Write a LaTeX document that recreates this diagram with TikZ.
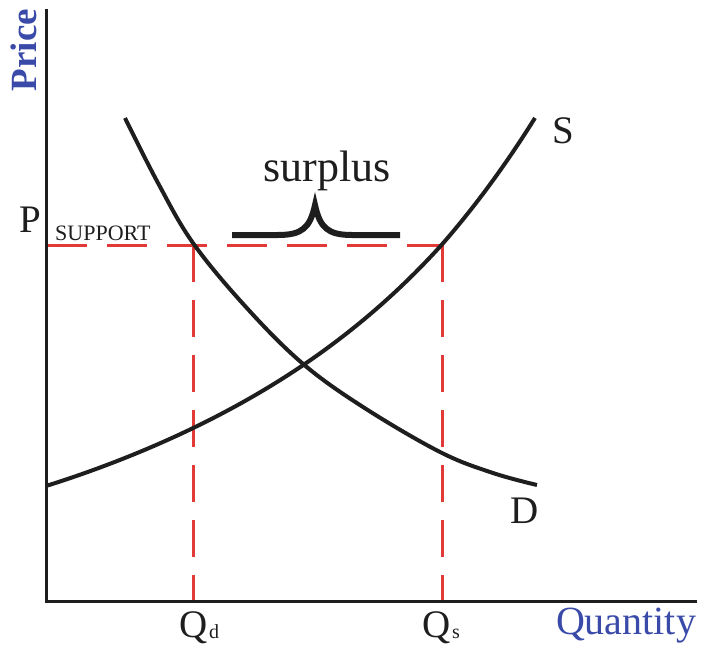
\documentclass[tikz,border=0pt]{standalone}
\usepackage{fontspec}
\setmainfont{Liberation Serif}
\definecolor{axisblue}{HTML}{3A4AA8}
\definecolor{dashred}{HTML}{E23A36}
\definecolor{curveblack}{HTML}{1E1E1E}
\begin{document}
\begin{tikzpicture}[x=1pt,y=-1pt,
  axis/.style={line width=3pt,curveblack},
  curve/.style={line width=4pt,curveblack},
  hguide/.style={line width=3pt,dashred,dash pattern=on 40pt off 20pt},
  vguide/.style={line width=3pt,dashred,dash pattern=on 37pt off 18pt},
  bluelabel/.style={text=axisblue,inner sep=0pt},
  blacklabel/.style={text=curveblack,inner sep=0pt}]
\useasboundingbox (0,0) rectangle (703,652);
\coordinate (origin) at (46,601);
\coordinate (ytop) at (46,9);
\coordinate (xend) at (697,601);
\coordinate (pl) at (47,245);
\coordinate (pd) at (193,245);
\coordinate (ps) at (442,245);
\coordinate (qd) at (193,601);
\coordinate (qs) at (442,601);
% dashed guides
\draw[hguide] (pl) -- (ps);
\draw[vguide] (pd) -- (qd);
\draw[vguide] (ps) -- (qs);
% axes
\draw[axis] (ytop) -- (origin) -- (xend);
% demand
\draw[curve] plot[smooth,tension=0.6] coordinates {(125,118) (158,183) (193,243) (245,306) (302,363) (363,407) (440,452) (493,473) (537,485)};
% supply
\draw[curve] plot[domain=46:535,samples=60,smooth] (\x,{601-38.6-76.4*exp(0.0036*(\x-46))-5*sin((\x-46)/396*180)*(\x<442)});
% brace
\draw[line width=6pt,curveblack] (232,235) -- (278,235) .. controls (302,235) and (310,228) .. (315,205) .. controls (320,228) and (328,235) .. (352,235) -- (400,235);
% labels
\node[bluelabel,rotate=90,font=\fontsize{37}{37}\selectfont\bfseries] (price) at (24,50) {Price};
\node[bluelabel,font=\fontsize{40}{40}\selectfont] (qty) at (626,626) {Quantity};
\node[blacklabel,font=\fontsize{44}{44}\selectfont] (surplus) at (327,171) {surplus};
\node[blacklabel,font=\fontsize{39}{39}\selectfont] (slab) at (563,131) {S};
\node[blacklabel,font=\fontsize{39}{39}\selectfont] (dlab) at (525,511) {D};
\node[blacklabel,font=\fontsize{39}{39}\selectfont] (plab) at (30,220) {P};
\node[blacklabel,font=\fontsize{22}{22}\selectfont,anchor=south west] (sup) at (55,241) {SUPPORT};
\node[blacklabel,font=\fontsize{39}{39}\selectfont] (qdlab) at (194,628) {Q};
\node[blacklabel,font=\fontsize{20}{20}\selectfont,anchor=south west] (qdsub) at (209,639) {d};
\node[blacklabel,font=\fontsize{39}{39}\selectfont] (qslab) at (437,628) {Q};
\node[blacklabel,font=\fontsize{20}{20}\selectfont,anchor=south west] (qssub) at (452,639) {s};
\end{tikzpicture}
\end{document}
